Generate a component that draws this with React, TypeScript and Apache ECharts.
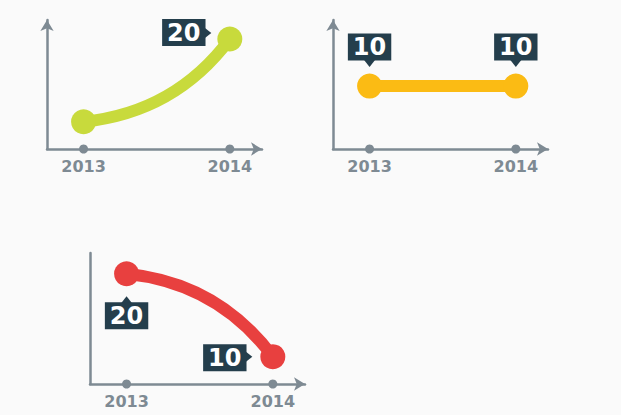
import React, { useEffect, useRef } from "react";
import * as echarts from "echarts";

// ---- data ----
const years = [2013, 2014];
const growthValues = [10, 20];
const flatValues = [10, 10];
const declineValues = [20, 10];
const yearLabels = ["2013", "2014"];

const GREEN = "#c8da3c";
const YELLOW = "#fbbb14";
const RED = "#e8403f";
const DARK = "#243e4c";
const GREY = "#7e8a93";
const FONT = "DejaVu Sans";

type Note = { offset: number[]; tri: number[]; rot: number } | null;

const panels = [
  {
    values: growthValues,
    color: GREEN,
    curveness: -0.22,
    grid: { left: 47, top: 20, width: 215, height: 129 },
    yMin: 6.7,
    yMax: 22.3,
    yArrow: true,
    notes: [null, { offset: [-46, -6.5], tri: [-22, -6], rot: -90 }] as Note[],
  },
  {
    values: flatValues,
    color: YELLOW,
    curveness: 0,
    grid: { left: 333, top: 20, width: 215, height: 129 },
    yMin: 0,
    yMax: 20.5,
    yArrow: true,
    notes: [
      { offset: [0, -39], tri: [0, -22.5], rot: 180 },
      { offset: [0, -39], tri: [0, -22.5], rot: 180 },
    ] as Note[],
  },
  {
    values: declineValues,
    color: RED,
    curveness: 0.22,
    grid: { left: 90, top: 253, width: 215, height: 131 },
    yMin: 6.7,
    yMax: 22.5,
    yArrow: false,
    notes: [
      { offset: [0, 42], tri: [0, 26], rot: 0 },
      { offset: [-48, 1], tri: [-24, 0], rot: -90 },
    ] as Note[],
  },
];

export default function App() {
  const ref = useRef<HTMLDivElement>(null);
  useEffect(() => {
    if (!ref.current) return;
    const chart = echarts.init(ref.current, undefined, { renderer: "svg" });
    const grids: any[] = [];
    const xAxes: any[] = [];
    const yAxes: any[] = [];
    const series: any[] = [];
    panels.forEach((p, gi) => {
      grids.push({ ...p.grid, containLabel: false });
      xAxes.push({
        type: "value",
        gridIndex: gi,
        min: 2012.75,
        max: 2014.22,
        splitLine: { show: false },
        axisTick: { show: false },
        axisLine: {
          show: true,
          onZero: false,
          symbol: ["none", "arrow"],
          symbolSize: [10, 11],
          lineStyle: { color: GREY, width: 2.5 },
        },
        axisLabel: {
          customValues: years,
          formatter: (v: number) => yearLabels[years.indexOf(Math.round(v))] ?? "",
          color: GREY,
          fontFamily: FONT,
          fontWeight: "bold",
          fontSize: 16,
          margin: 9,
        },
      });
      yAxes.push({
        type: "value",
        gridIndex: gi,
        min: p.yMin,
        max: p.yMax,
        splitLine: { show: false },
        axisTick: { show: false },
        axisLabel: { show: false },
        axisLine: {
          show: true,
          onZero: false,
          symbol: p.yArrow ? ["none", "arrow"] : ["none", "none"],
          symbolSize: [10, 11],
          lineStyle: { color: GREY, width: 2.5 },
        },
      });
      const pts = years.map((y, i) => [y, p.values[i]]);
      series.push({
        type: "lines",
        coordinateSystem: "cartesian2d",
        xAxisIndex: gi,
        yAxisIndex: gi,
        data: [{ coords: pts }],
        lineStyle: { color: p.color, width: 12, curveness: p.curveness, opacity: 1, cap: "round" },
        z: 3,
      });
      series.push({
        type: "scatter",
        xAxisIndex: gi,
        yAxisIndex: gi,
        data: years.map((y) => [y, p.yMin]),
        symbol: "circle",
        symbolSize: 9,
        itemStyle: { color: GREY, opacity: 1 },
        z: 3,
      });
      series.push({
        type: "scatter",
        xAxisIndex: gi,
        yAxisIndex: gi,
        data: pts
          .map((pt, i) => ({ pt, n: p.notes[i] }))
          .filter((d) => d.n)
          .map((d) => ({
            value: d.pt,
            symbolOffset: d.n!.tri,
            symbolRotate: d.n!.rot,
          })),
        symbol: "triangle",
        symbolSize: [11, 7],
        itemStyle: { color: DARK, opacity: 1 },
        z: 4,
      });
      series.push({
        type: "scatter",
        xAxisIndex: gi,
        yAxisIndex: gi,
        data: pts.map((pt, i) => {
          const n = p.notes[i];
          return {
            value: pt,
            label: n
              ? {
                  show: true,
                  position: "inside",
                  offset: n.offset,
                  formatter: (prm: any) => String(prm.value[1]),
                  color: "#ffffff",
                  fontFamily: FONT,
                  fontWeight: "bold",
                  fontSize: 24,
                  lineHeight: 25,
                  backgroundColor: DARK,
                  padding: [2, 5, 0, 5],
                }
              : { show: false },
          };
        }),
        symbol: "circle",
        symbolSize: 25,
        itemStyle: { color: p.color, opacity: 1 },
        z: 5,
      });
    });
    chart.setOption({
      animation: false,
      backgroundColor: "#fafafa",
      grid: grids,
      xAxis: xAxes,
      yAxis: yAxes,
      series,
    });
    return () => chart.dispose();
  }, []);
  return (
    <div
      ref={ref}
      style={{ position: "fixed", left: 0, top: 0, width: 621, height: 415 }}
    />
  );
}
